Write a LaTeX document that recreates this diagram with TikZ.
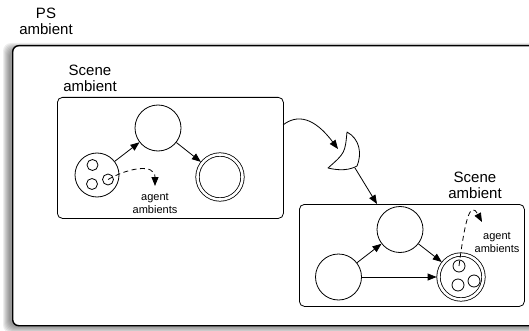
\documentclass[tikz,border=0pt]{standalone}
\usepackage{fontspec}
\setmainfont{Liberation Sans}
\usetikzlibrary{arrows.meta}
\begin{document}
\begin{tikzpicture}[x=1pt,y=-1pt,
  lbl/.style={font=\fontsize{15}{16}\selectfont, align=center, inner sep=0},
  small/.style={font=\fontsize{11}{13}\selectfont, align=center, inner sep=0},
  st/.style={circle, draw, line width=0.8pt, minimum size=46pt, inner sep=0},
  dst/.style={circle, draw, line width=0.8pt, double, double distance=2.6pt, minimum size=45pt, inner sep=0},
  tok/.style={circle, draw, line width=0.8pt, minimum size=11pt, inner sep=0},
  arr/.style={-{Triangle[length=9pt,width=7pt]}, line width=0.8pt},
  darr/.style={arr, dash pattern=on 5pt off 3.5pt},
  box/.style={draw, rounded corners=5pt, line width=0.8pt, anchor=north west, inner sep=0, fill=white},
  gate/.style={draw, line width=0.8pt, fill=white, line join=round}
]
\useasboundingbox (0,0) rectangle (529,331);
\clip (0,0) rectangle (529,331);
% shadow of outer box
\foreach \k in {0,...,6}
  \fill[black, opacity=0.07, rounded corners=8pt] (9-\k,49-\k) rectangle (560,327+\k);
% outer box
\node[box, line width=1.4pt, rounded corners=6pt, minimum width=540pt, minimum height=280pt] (ps) at (12,45) {};
\node[lbl] (pslbl) at (46,21) {PS\\ambient};

% scene 1
\node[box, minimum width=226pt, minimum height=121pt] (box1) at (57,97) {};
\node[lbl] (lbl1) at (90,78) {Scene\\ambient};
\node[st] (a1) at (158,128) {};
\node[st, minimum size=44pt] (l1) at (97,175) {};
\node[dst] (d1) at (220,177) {};
\node[tok] (t11) at (92.5,165) {};
\node[tok] (t12) at (92,184) {};
\node[tok] (t13) at (108,179.5) {};
\draw[arr] (l1) -- (a1);
\draw[arr, shorten >=1.5pt] (a1) -- (d1);
\coordinate (e1) at (155,186);
\draw[darr] (t13.center) .. controls (128,168) and (155,163) .. (e1);
\node[small] (ag1) at (155,203) {agent\\ambients};

% gate
\draw[gate] (347,132) .. controls (345,153) .. (328,168)
  .. controls (340,171) and (350,170) .. (357,166)
  .. controls (362,154) and (360,139) .. (347,132) -- cycle;
\coordinate (gin) at (338,149);
\coordinate (gout) at (355,168);
\coordinate (b1out) at (283,125);
\draw[arr] (b1out) .. controls (297,114) and (314,117) .. (gin);

% scene 2
\node[box, minimum width=225pt, minimum height=102pt] (box2) at (299,204) {};
\node[lbl] (lbl2) at (475,185) {Scene\\ambient};
\coordinate (b2in) at (377,204);
\draw[arr] (gout) -- (b2in);
\node[st] (a2) at (400,229.5) {};
\node[st] (l2) at (338.5,277) {};
\node[dst] (d2) at (461,277) {};
\node[tok, minimum size=12pt] (t21) at (459,266) {};
\node[tok, minimum size=12pt] (t22) at (458,285) {};
\node[tok, minimum size=12pt] (t23) at (474,281) {};
\draw[arr] (l2) -- (a2);
\draw[arr, shorten >=1.5pt] (a2) -- (d2);
\draw[arr, shorten >=1.5pt] (l2) -- (d2);
\coordinate (e2) at (482,222);
\draw[darr] (t21.center) .. controls (465,220) and (470,200) .. (e2);
\node[small] (ag2) at (497,242) {agent\\ambients};
\end{tikzpicture}
\end{document}
